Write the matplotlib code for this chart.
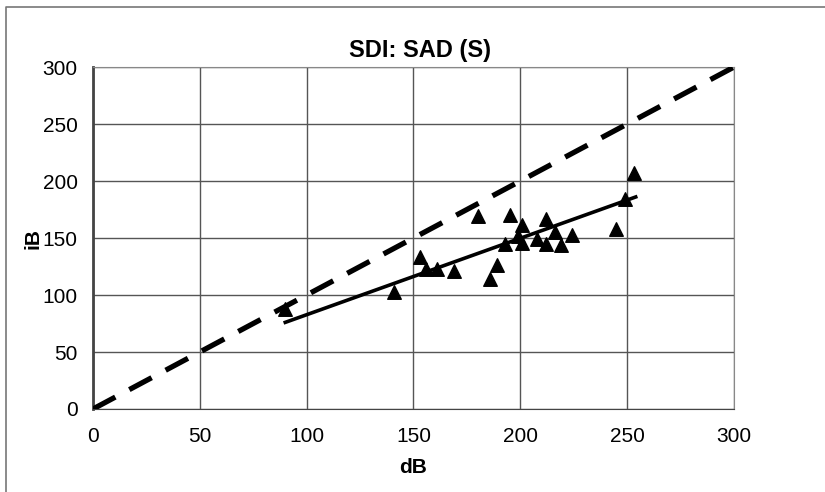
import matplotlib
matplotlib.use("Agg")
import matplotlib.pyplot as plt
from matplotlib.lines import Line2D

plt.rcParams['font.family'] = ['Liberation Sans', 'DejaVu Sans']

# values
db = [90, 141, 153, 156, 161, 169, 180, 186, 189, 193, 195, 199, 201, 201,
      208, 212, 212, 216, 219, 224, 245, 249, 253]
ib = [88, 103, 133, 123, 123, 121, 169, 114, 126, 145, 170, 152, 161, 146,
      149, 167, 145, 155, 144, 153, 158, 184, 207]
ident = [0, 300]
trend_x = [90, 254]
trend_y = [76, 186]
ticks = [0, 50, 100, 150, 200, 250, 300]

fig = plt.figure(figsize=(8.25, 4.92), dpi=100)
ax = fig.add_axes([0.1127, 0.1687, 0.7770, 0.6951])

# outer chart frame (cut at right/bottom like the source)
fig.add_artist(Line2D([0.0073, 0.0073, 1.0], [0.0, 0.9858, 0.9858],
                      transform=fig.transFigure, color='#777777', lw=1.2))

ax.plot(ident, ident, color='black', lw=3.8, dashes=(4.8, 3.0), zorder=3)
ax.plot(trend_x, trend_y, color='black', lw=2.6, zorder=4)
ax.scatter(db, ib, marker='^', s=95, color='black', zorder=5)

ax.set_xlim(0, 300)
ax.set_ylim(0, 300)
ax.set_xticks(ticks)
ax.set_yticks(ticks)
ax.grid(True, color='#555555', lw=1)
ax.set_axisbelow(True)
ax.tick_params(length=0, labelsize=15)
ax.tick_params(axis='y', pad=11)
ax.tick_params(axis='x', pad=13)
for s in ['top', 'right']:
    ax.spines[s].set_color('#888888')
for s in ['left', 'bottom']:
    ax.spines[s].set_color('#444444')
ax.spines['left'].set_linewidth(2)

ax.set_title('SDI: SAD (S)', fontsize=17, fontweight='bold', pad=7, x=0.51)
ax.set_xlabel('dB', fontsize=15, fontweight='bold')
ax.set_ylabel('iB', fontsize=15, fontweight='bold')
ax.xaxis.set_label_coords(0.5, -0.143)
ax.yaxis.set_label_coords(-0.078, 0.5)

fig.savefig('out.png', dpi=100)
